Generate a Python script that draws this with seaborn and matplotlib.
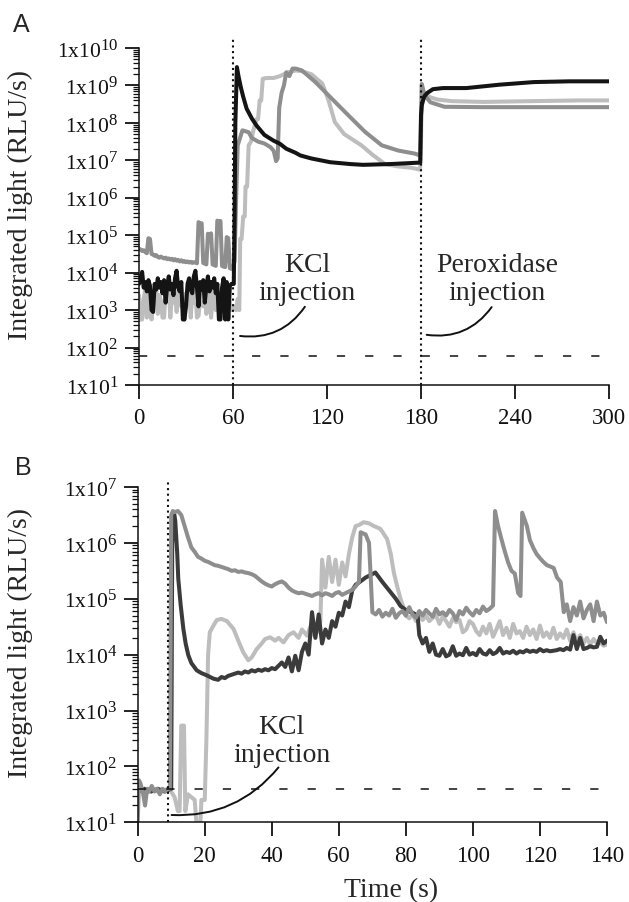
import numpy as np
import pandas as pd
import matplotlib
matplotlib.use("Agg")
import matplotlib.pyplot as plt
import seaborn as sns
from matplotlib.ticker import FixedLocator, FixedFormatter, NullFormatter
import matplotlib._mathtext as _mt

_mt.SHRINK_FACTOR = 0.78

# ---------------- data (log10 of RLU/s) ----------------
# Panel A : 0-60 s baseline sampled each second
A_base_t = list(range(0, 61))
A_black_base = [3.70, 3.85, 4.02, 3.60, 3.75, 3.50, 3.80, 3.65, 3.00, 2.95,
                3.70, 3.55, 3.85, 3.60, 3.75, 3.45, 3.80, 3.20, 3.65, 3.90,
                3.55, 3.70, 3.40, 3.85, 4.05, 3.60, 3.50, 3.75, 2.75, 2.75,
                3.10, 3.70, 3.85, 3.55, 3.45, 3.90, 4.05, 3.60, 3.10, 3.75,
                3.55, 3.80, 3.20, 3.65, 3.90, 3.50, 3.75, 3.60, 3.85, 3.45,
                3.70, 2.75, 2.75, 3.60, 3.85, 2.75, 3.75, 2.75, 3.65, 3.70,
                3.70]
A_light_base = [3.40, 2.75, 2.75, 3.30, 3.55, 2.80, 3.45, 3.20, 2.75, 3.50,
                3.35, 3.60, 2.90, 3.40, 3.25, 2.80, 2.80, 3.50, 3.30, 3.55,
                2.80, 3.40, 3.20, 3.50, 2.95, 3.35, 3.60, 3.10, 3.30, 2.75,
                3.45, 3.25, 3.55, 2.80, 3.40, 3.20, 3.50, 2.80, 2.85, 3.30,
                3.55, 3.10, 3.40, 2.90, 3.25, 3.50, 2.80, 3.35, 3.60, 3.00,
                3.40, 3.20, 2.80, 3.45, 3.30, 3.55, 2.75, 3.35, 3.20, 3.00,
                3.10]
A_mid_base = [4.64, 4.62, 4.58, 4.60, 4.55, 4.52, 4.92, 4.90, 4.50, 4.48,
              4.45, 4.47, 4.42, 4.40, 4.43, 4.40, 4.38, 4.40, 4.36, 4.38,
              4.35, 4.37, 4.33, 4.36, 4.32, 4.34, 4.30, 4.33, 4.29, 4.31,
              4.28, 4.30, 4.27, 4.29, 4.26, 4.28, 4.27, 4.25, 5.35, 5.30,
              5.32, 4.26, 4.24, 4.22, 5.04, 5.00, 5.05, 4.22, 4.20, 4.18,
              5.39, 5.36, 5.38, 4.18, 4.16, 4.15, 4.95, 4.92, 4.12, 4.10,
              4.15]

# Panel A : after KCl injection
A_black_t = [60.5, 61, 61.5, 62.5, 63.5, 65, 66.5, 68.7, 72, 75,
             80, 85.7, 90, 94, 100, 103, 110, 122, 135, 143,
             160, 170, 179.5, 180, 180.5, 182, 184, 187.6, 194, 209,
             230, 252, 275, 300]
A_black_v = [3.7, 5.5, 8.0, 9.49, 9.25, 8.95, 8.7, 8.38, 8.12, 7.93,
             7.68, 7.53, 7.44, 7.31, 7.2, 7.13, 7.05, 6.95, 6.9, 6.88,
             6.9, 6.92, 6.94, 8.2, 8.47, 8.7, 8.8, 8.9, 8.93, 8.93,
             9.02, 9.09, 9.11, 9.11]
A_light_t = [61, 62, 63, 64, 64.6, 65.5, 66.5, 67.5, 68, 69,
             70, 71.5, 73, 75, 76, 77, 78, 79, 82, 86,
             90, 95, 100, 104, 110, 117, 121, 125, 131, 142,
             149, 157, 165, 174, 179.4, 180, 180.5, 182, 186, 191,
             200, 220, 250, 280, 300]
A_light_v = [3.1, 3.0, 3.3, 3.0, 4.9, 4.9, 5.5, 5.5, 6.3, 6.3,
             7.4, 7.5, 7.8, 8.1, 8.1, 8.6, 8.6, 9.18, 9.2, 9.2,
             9.25, 9.35, 9.4, 9.38, 9.3, 9.05, 8.6, 8.02, 7.7, 7.4,
             7.15, 6.9, 6.84, 6.8, 6.75, 7.5, 9.0, 8.8, 8.68, 8.62,
             8.58, 8.56, 8.58, 8.6, 8.6]
A_mid_t = [61, 62, 63, 66, 70, 72, 76, 80, 84, 86,
           87.5, 88.5, 89.5, 91, 92.5, 94, 96, 98, 100, 104,
           112.6, 123, 133.7, 144.3, 155, 165.6, 176, 179.5, 180, 180.5,
           182, 186, 195, 220, 250, 280, 300]
A_mid_v = [4.3, 6.0, 7.4, 7.8, 7.75, 7.6, 7.5, 7.45, 7.35, 7.25,
           6.98, 7.05, 8.4, 8.8, 9.0, 9.35, 9.25, 9.45, 9.45, 9.4,
           9.09, 8.65, 8.2, 7.76, 7.4, 7.26, 7.18, 7.13, 8.0, 9.04,
           8.75, 8.55, 8.43, 8.42, 8.42, 8.42, 8.42]

# Panel B
B_mid_t = ([0, 0.4, 0.8, 1.5, 2.2, 2.8, 3.4, 4.2, 5.0, 5.8, 6.6, 7.4, 8.2, 9.0, 9.6,
            10.0, 10.5, 11.0, 12.0, 13.0]
           + list(range(14, 66))
           + [66.0, 66.5, 68, 69, 69.5]
           + list(range(70, 107))
           + [106.6, 107.5, 108.5, 109.5, 110.5, 111.5, 112.5, 113.5, 114.2, 114.7,
              116.1, 117, 118.1, 119, 120.1, 121, 122.1, 123, 124.1, 125.1,
              126.2, 127.1, 128, 129, 130, 131, 132, 133, 134, 135,
              136, 137, 138, 139, 140])
B_mid_v = ([1.0, 1.75, 1.7, 1.55, 1.3, 1.6, 1.55, 1.65, 1.55, 1.6, 1.5, 1.6, 1.55, 1.6, 1.6,
            6.5, 6.57, 6.55, 6.57, 6.5]
           + [6.3, 6.1, 5.92, 5.84, 5.75, 5.72, 5.68, 5.66, 5.63, 5.6,
              5.59, 5.57, 5.55, 5.53, 5.5, 5.51, 5.48, 5.49, 5.47, 5.46,
              5.44, 5.41, 5.36, 5.31, 5.27, 5.24, 5.22, 5.26, 5.29, 5.31,
              5.27, 5.2, 5.15, 5.12, 5.1, 5.11, 5.09, 5.07, 5.05, 5.08,
              5.1, 5.06, 5.1, 5.08, 5.05, 5.1, 5.12, 5.07, 5.1, 5.13,
              5.16, 5.22]
           + [5.3, 6.19, 6.15, 6.0, 5.4]
           + [4.76, 4.72, 4.80, 4.68, 4.75, 4.70, 4.82, 4.66, 4.74, 4.78,
              4.70, 4.85, 4.72, 4.66, 4.78, 4.70, 4.80, 4.74, 4.68, 4.82,
              4.72, 4.76, 4.70, 4.80, 4.74, 4.62, 4.78, 4.72, 4.84, 4.76,
              4.70, 4.80, 4.74, 4.86, 4.78, 4.82, 4.88]
           + [6.57, 6.3, 6.07, 5.85, 5.65, 5.5, 5.45, 5.1, 5.05, 6.54,
              6.3, 6.05, 5.9, 5.8, 5.72, 5.66, 5.6, 5.58, 5.55, 5.38,
              5.3, 4.76, 4.9, 4.6, 4.85, 4.7, 4.95, 4.65, 4.8, 4.9,
              4.6, 4.95, 4.7, 4.75, 4.58])

B_dark_t = ([0, 2, 4, 6, 8, 10, 10.3, 10.8, 11.2, 11.8,
             12.1, 12.8, 13.6, 14.3, 15.1, 16, 17.6, 19, 20.6, 22.6]
            + list(range(24, 67))
            + [68, 70.9, 73, 75, 77, 78.4, 80, 82, 83.5, 84]
            + list(range(85, 141)))
B_dark_v = ([1.55, 1.6, 1.55, 1.6, 1.55, 1.6, 6.0, 6.55, 6.4, 5.8,
             5.36, 4.9, 4.47, 4.2, 3.99, 3.85, 3.72, 3.67, 3.63, 3.57]
            + [3.55, 3.6, 3.58, 3.62, 3.64, 3.66, 3.68, 3.66, 3.7, 3.68,
               3.72, 3.7, 3.73, 3.71, 3.74, 3.72, 3.76, 3.74, 3.8, 3.86,
               3.78, 3.95, 3.7, 3.98, 3.72, 4.05, 4.2, 4.0, 4.76, 4.3,
               4.72, 4.2, 4.45, 4.3, 4.6, 4.5, 4.75, 4.7, 4.95, 4.85,
               5.15, 5.25, 5.29]
            + [5.38, 5.47, 5.3, 5.15, 5.0, 4.87, 4.8, 4.75, 4.7, 4.35]
            + [4.2, 4.3, 4.05, 4.2, 4.0, 3.98, 4.1, 3.97, 4.0, 4.15,
               3.98, 4.02, 3.99, 4.12, 4.0, 4.03, 3.99, 4.1, 4.02, 4.0,
               4.08, 4.01, 4.04, 4.12, 4.02, 4.05, 4.03, 4.07, 4.02, 4.06,
               4.04, 4.08, 4.05, 4.07, 4.05, 4.1, 4.06, 4.08, 4.06, 4.07,
               4.08, 4.1, 4.08, 4.12, 4.09, 4.35, 4.1, 4.3, 4.1, 4.12,
               4.15, 4.13, 4.14, 4.32, 4.2, 4.25])

B_light_t = ([0, 3, 6, 9.5, 10, 11, 12, 12.5, 13, 13.8,
              14.2, 15, 16, 17, 17.5, 18.7, 19, 20, 20.5, 21,
              21.5, 22.6, 23.6, 25, 26.6, 28.6, 30, 31.5, 33, 34,
              35.5, 37, 38, 39.5, 41, 42, 43.5, 45, 46.5, 48,
              49, 50.5, 51.5, 52.5, 53.5, 54.5, 55, 56, 57, 58,
              59, 60, 61, 62, 63, 64, 65, 66, 67.4, 69,
              70.5, 72.4, 73.5, 74.4, 75.5, 76.4, 77.5, 78.4, 79.4]
             + list(range(80, 141)))
B_light_v = ([1.55, 1.6, 1.55, 1.6, 1.55, 1.45, 1.2, 1.2, 2.73, 2.73,
              1.2, 1.5, 1.45, 1.4, 1.0, 1.0, 1.4, 1.4, 2.5, 4.0,
              4.4, 4.52, 4.62, 4.64, 4.6, 4.46, 4.25, 4.04, 3.9, 3.95,
              4.1, 4.2, 4.28, 4.31, 4.25, 4.3, 4.22, 4.35, 4.4, 4.3,
              4.45, 4.34, 4.5, 4.35, 4.4, 4.6, 5.7, 5.2, 5.75, 5.3,
              5.7, 5.25, 5.65, 5.4, 5.8, 6.1, 6.3, 6.32, 6.37, 6.35,
              6.3, 6.25, 6.15, 6.07, 5.8, 5.47, 5.2, 5.0, 4.82]
             + [4.70, 4.65, 4.72, 4.6, 4.68, 4.62, 4.7, 4.6, 4.66, 4.7,
                4.55, 4.68, 4.6, 4.5, 4.65, 4.58, 4.62, 4.4, 4.45, 4.6,
                4.55, 4.42, 4.35, 4.5, 4.38, 4.55, 4.32, 4.45, 4.6, 4.35,
                4.48, 4.3, 4.55, 4.38, 4.42, 4.3, 4.5, 4.35, 4.45, 4.28,
                4.52, 4.32, 4.4, 4.3, 4.48, 4.28, 4.38, 4.3, 4.45, 4.25,
                4.4, 4.22, 4.35, 4.2, 4.3, 4.18, 4.28, 4.2, 4.22, 4.16,
                4.18])

A_detection_limit = 60
B_detection_limit = 40
A_injections = [60, 180]
B_injections = [9]
A_xticks = [0, 60, 120, 180, 240, 300]
B_xticks = [0, 20, 40, 60, 80, 100, 120, 140]

# ---------------- style ----------------
sns.set_style("ticks")
plt.rcParams["font.family"] = ["Liberation Serif", "DejaVu Serif"]
plt.rcParams["mathtext.fontset"] = "custom"
plt.rcParams["mathtext.rm"] = "Liberation Serif"
plt.rcParams["mathtext.default"] = "regular"
plt.rcParams["axes.edgecolor"] = "#111111"
plt.rcParams["xtick.color"] = "#111111"
plt.rcParams["ytick.color"] = "#111111"

C_LIGHT = "#bdbdbd"
C_MID = "#8e8e8e"
C_BLACK = "#141414"
C_DARK = "#3b3b3b"
LW = 2.9

fig = plt.figure(figsize=(6.29, 9.03), dpi=100)
axA = fig.add_axes([139 / 629, 1 - 386 / 903, 470 / 629, 337 / 903])
axB = fig.add_axes([137.7 / 629, 1 - 823.3 / 903, 469.3 / 629, 335.3 / 903])


def series(ax, t, logv, color):
    df = pd.DataFrame({"t": t, "v": 10.0 ** np.asarray(logv)})
    sns.lineplot(data=df, x="t", y="v", color=color, lw=LW, ax=ax,
                 estimator=None, sort=False)


# Panel A
series(axA, A_base_t + A_light_t, A_light_base + A_light_v, C_LIGHT)
series(axA, A_base_t + A_mid_t, A_mid_base + A_mid_v, C_MID)
series(axA, A_base_t + A_black_t, A_black_base + A_black_v, C_BLACK)

# Panel B
series(axB, B_light_t, B_light_v, C_LIGHT)
series(axB, B_dark_t, B_dark_v, C_DARK)
series(axB, B_mid_t, B_mid_v, C_MID)

for ax, xmax, top in ((axA, 300, 10), (axB, 140, 7)):
    ax.set_yscale("log")
    ax.set_xlim(0, xmax)
    ax.set_ylim(10, 10.0 ** top)

# reference lines
dash = (0, (5.4, 13.1))
dot = (0, (1, 1.7))
axA.axhline(A_detection_limit, xmin=0, xmax=296 / 300, color="#111111", lw=1.1, ls=dash)
axB.axhline(B_detection_limit, xmin=0, xmax=137.5 / 140, color="#111111", lw=1.1, ls=dash)
for x in A_injections:
    axA.axvline(x, ymin=0, ymax=1.027, color="#111111", lw=1.5, ls=dot, clip_on=False)
for x in B_injections:
    axB.axvline(x, ymin=0, ymax=1.018, color="#111111", lw=1.5, ls=dot, clip_on=False)

# annotations
conn = dict(arrowstyle="-", connectionstyle="arc3,rad=0.3", lw=1.4,
            color="#111111", shrinkA=0, shrinkB=0)
connB = dict(conn, connectionstyle="arc3,rad=0.25")
axA.annotate("", xy=(105.9, 1230), xytext=(64.5, 204), arrowprops=conn)
axA.annotate("", xy=(225.1, 1202), xytext=(183.6, 219), arrowprops=conn)
axB.annotate("", xy=(42.0, 96), xytext=(10.1, 13.5), arrowprops=connB)
axA.text(107.5, 2000, "KCl\ninjection", ha="center", va="baseline",
         fontsize=20, linespacing=1.15)
axA.text(228.8, 2000, "Peroxidase\ninjection", ha="center", va="baseline",
         fontsize=20, linespacing=1.15)
axB.text(42.9, 126, "KCl\ninjection", ha="center", va="baseline",
         fontsize=20, linespacing=1.15)

# panel letters
fig.text(13 / 629, 1 - 31.7 / 903, "A", family=["Liberation Sans", "DejaVu Sans"],
         fontsize=18, va="baseline", ha="left")
fig.text(15 / 629, 1 - 475 / 903, "B", family=["Liberation Sans", "DejaVu Sans"],
         fontsize=18, va="baseline", ha="left")


# ---------------- axes (done last) ----------------
def setup(ax, xticks, topdec):
    decs = list(range(1, topdec + 1))
    ax.yaxis.set_major_locator(FixedLocator([10.0 ** k for k in decs]))
    ax.yaxis.set_major_formatter(FixedFormatter([r"1x10$^{%d}$" % k for k in decs]))
    minors = [m * 10.0 ** k for k in range(1, topdec) for m in range(2, 10)]
    ax.yaxis.set_minor_locator(FixedLocator(minors))
    ax.yaxis.set_minor_formatter(NullFormatter())
    ax.xaxis.set_major_locator(FixedLocator(xticks))
    ax.xaxis.set_major_formatter(FixedFormatter([str(x) for x in xticks]))
    ax.spines["top"].set_visible(False)
    ax.spines["right"].set_visible(False)
    ax.spines["left"].set_linewidth(1.1)
    ax.spines["bottom"].set_linewidth(1.1)
    ax.tick_params(axis="both", which="major", length=10, width=1.3, direction="out")
    ax.tick_params(axis="y", which="minor", length=4.5, width=0.9, direction="out")
    ax.tick_params(axis="y", which="major", labelsize=15.5, pad=5)
    ax.tick_params(axis="x", which="major", labelsize=16.5, pad=6)
    ax.tick_params(right=False, top=False, which="both")
    ax.set_xlabel("")
    ax.set_ylabel("Integrated light (RLU/s)", fontsize=20)


setup(axA, A_xticks, 10)
setup(axB, B_xticks, 7)
axA.yaxis.set_label_coords(-0.2255, 0.537)
axB.yaxis.set_label_coords(-0.223, 0.539)
axB.set_xlabel("Time (s)", fontsize=20)
axB.xaxis.set_label_coords(0.539, -0.163)

fig.savefig("out.png", dpi=100)
